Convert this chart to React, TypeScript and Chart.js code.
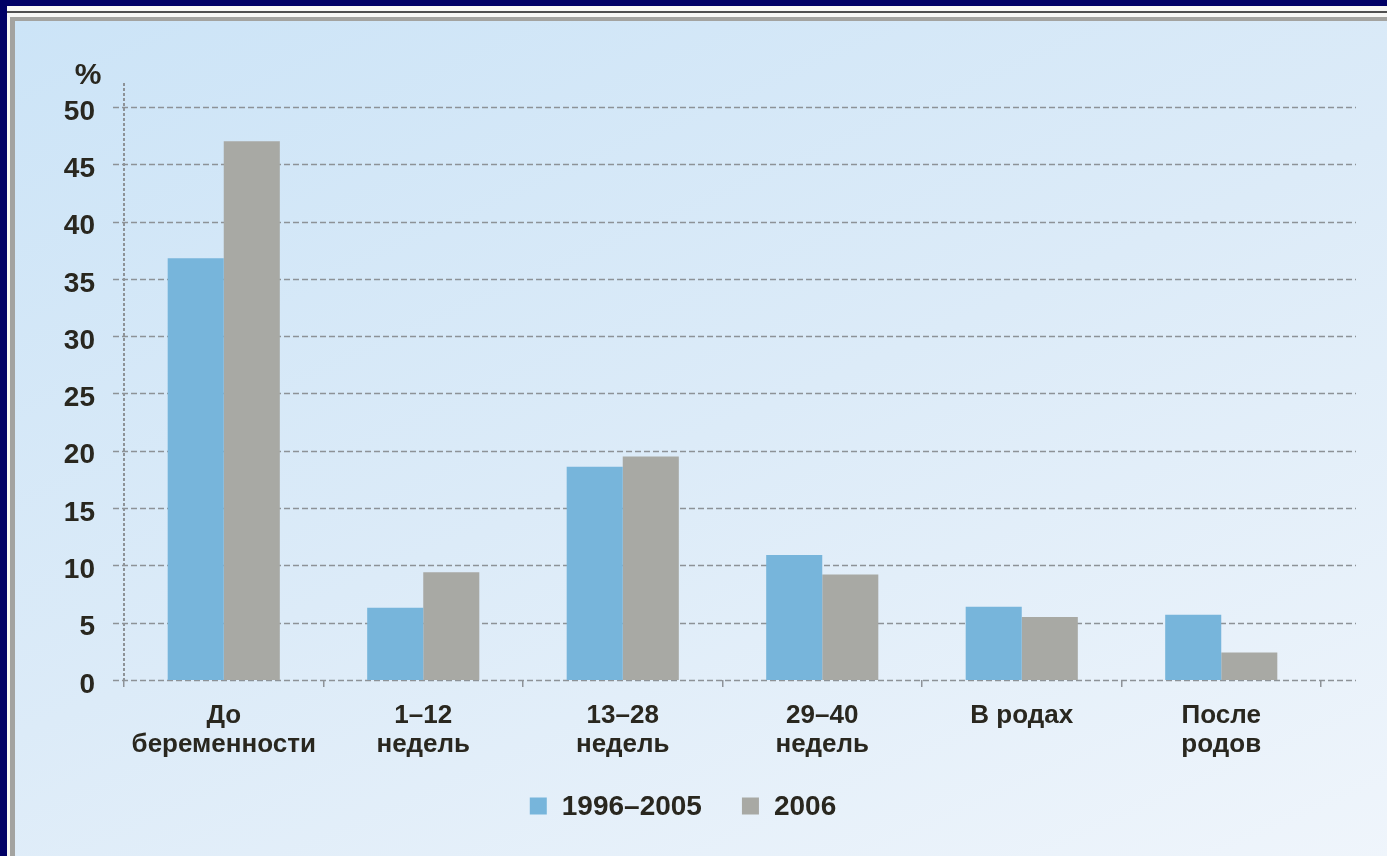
import React, { useEffect, useRef } from "react";
import { Chart, registerables } from "chart.js";

Chart.register(...registerables);

// Stage of pregnancy
const categories: (string | string[])[] = [
  ["До", "беременности"],
  ["1–12", "недель"],
  ["13–28", "недель"],
  ["29–40", "недель"],
  "В родах",
  ["После", "родов"],
];

const seriesLabels = ["1996–2005", "2006"];
const values1996to2005 = [36.8, 6.3, 18.6, 10.9, 6.4, 5.7];
const values2006 = [47.0, 9.4, 19.5, 9.2, 5.5, 2.4];

const yTicks = [0, 5, 10, 15, 20, 25, 30, 35, 40, 45, 50];
const yUnit = "%";

const W = 1387;
const H = 856;
const BLUE = "#77b5db";
const GRAY = "#a8a9a4";
const TEXT = "#29271f";
const LINE = "#8d9297";
const FONT = "'Liberation Sans', Arial, sans-serif";

// Navy frame, white mat and the pale blue panel behind the plot
const framePlugin = {
  id: "frame",
  beforeDraw(chart: any) {
    const { ctx } = chart;
    ctx.save();
    ctx.fillStyle = "#000066";
    ctx.fillRect(0, 0, W, H);
    ctx.fillStyle = "#f7f7f5";
    ctx.fillRect(7, 6, W - 7, H - 6);
    ctx.fillStyle = "#505050";
    ctx.fillRect(7, 11, W - 7, 2);
    ctx.fillStyle = "#a3a3a0";
    ctx.fillRect(10, 17, W - 10, 4);
    ctx.fillRect(10, 17, 5, H - 17);
    const g = ctx.createLinearGradient(15, 21, 600, H + 500);
    g.addColorStop(0, "#cce4f7");
    g.addColorStop(0.45, "#dcebf8");
    g.addColorStop(1, "#f3f7fc");
    ctx.fillStyle = g;
    ctx.fillRect(15, 21, W - 15, H - 21);
    ctx.restore();
  },
};

// Dashed guide lines (the zero line doubles as the x axis), the y axis line and the unit sign
const guidesPlugin = {
  id: "guides",
  beforeDatasetsDraw(chart: any) {
    const { ctx, chartArea, scales } = chart;
    const y = scales.y;
    const left = chartArea.left - 11;
    const right = chartArea.right + 35;
    ctx.save();
    ctx.strokeStyle = LINE;
    ctx.lineWidth = 1.5;
    ctx.setLineDash([6, 3]);
    yTicks.forEach((v) => {
      const py = Math.round(y.getPixelForValue(v)) + 0.5;
      ctx.beginPath();
      ctx.moveTo(left, py);
      ctx.lineTo(right, py);
      ctx.stroke();
    });
    ctx.setLineDash([3, 2]);
    ctx.lineWidth = 2;
    ctx.beginPath();
    ctx.moveTo(chartArea.left, chartArea.top - 1);
    ctx.lineTo(chartArea.left, chartArea.bottom);
    ctx.stroke();
    ctx.restore();

    ctx.save();
    ctx.fillStyle = TEXT;
    ctx.font = `bold 30px ${FONT}`;
    ctx.textAlign = "center";
    ctx.textBaseline = "middle";
    ctx.fillText(yUnit, 88, 76);
    ctx.restore();
  },
};

// Legend row under the category labels
const legendPlugin = {
  id: "legendRow",
  afterDraw(chart: any) {
    const { ctx } = chart;
    const cy = 806;
    const items = chart.data.datasets.map((d: any) => ({
      label: d.label,
      color: d.backgroundColor,
    }));
    ctx.save();
    ctx.font = `bold 28px ${FONT}`;
    ctx.textBaseline = "middle";
    ctx.textAlign = "left";
    const box = 17;
    const gapBox = 15;
    const gapItem = 40;
    const widths = items.map((it: any) => box + gapBox + ctx.measureText(it.label).width);
    const total = widths.reduce((a: number, b: number) => a + b, 0) + gapItem * (items.length - 1);
    let x = 683 - total / 2;
    items.forEach((it: any, i: number) => {
      ctx.fillStyle = it.color;
      ctx.fillRect(x, cy - box / 2, box, box);
      ctx.fillStyle = TEXT;
      ctx.fillText(it.label, x + box + gapBox, cy + 1);
      x += widths[i] + gapItem;
    });
    ctx.restore();
  },
};

export default function App() {
  const canvasRef = useRef<HTMLCanvasElement | null>(null);

  useEffect(() => {
    const canvas = canvasRef.current;
    if (!canvas) return;
    const chart = new Chart(canvas, {
      type: "bar",
      data: {
        labels: categories,
        datasets: [
          {
            label: seriesLabels[0],
            data: values1996to2005,
            backgroundColor: BLUE,
            borderWidth: 0,
            categoryPercentage: 0.562,
            barPercentage: 1,
          },
          {
            label: seriesLabels[1],
            data: values2006,
            backgroundColor: GRAY,
            borderWidth: 0,
            categoryPercentage: 0.562,
            barPercentage: 1,
          },
        ],
      },
      options: {
        responsive: false,
        animation: false,
        devicePixelRatio: 1,
        layout: { padding: { left: 0, right: W - 1321, top: 84, bottom: 0 } },
        plugins: {
          legend: { display: false },
          tooltip: { enabled: false },
          title: { display: false },
        },
        scales: {
          x: {
            grid: {
              display: true,
              drawOnChartArea: false,
              drawTicks: true,
              tickLength: 7,
              color: LINE,
              lineWidth: 1.5,
              offset: true,
            },
            border: { display: false },
            ticks: {
              color: TEXT,
              padding: 15,
              maxRotation: 0,
              autoSkip: false,
              font: { family: FONT, size: 26, weight: "bold", lineHeight: 1.1 },
            },
            afterFit(scale: any) {
              scale.height = H - 680;
            },
          },
          y: {
            min: 0,
            max: 52,
            grid: { display: false },
            border: { display: false },
            ticks: {
              color: TEXT,
              padding: 21,
              labelOffset: 5,
              font: { family: FONT, size: 28, weight: "bold" },
            },
            afterBuildTicks(scale: any) {
              scale.ticks = yTicks.map((v) => ({ value: v }));
            },
            afterFit(scale: any) {
              scale.width = 124;
            },
          },
        },
      },
      plugins: [framePlugin, guidesPlugin, legendPlugin],
    });
    return () => chart.destroy();
  }, []);

  return (
    <div style={{ position: "fixed", left: 0, top: 0, width: W, height: H }}>
      <canvas ref={canvasRef} width={W} height={H} style={{ width: W, height: H, display: "block" }} />
    </div>
  );
}
